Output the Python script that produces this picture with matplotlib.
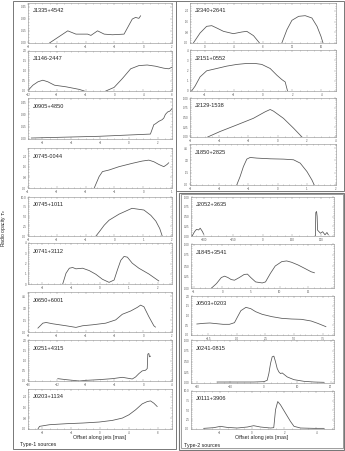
import matplotlib
matplotlib.use('Agg')
import matplotlib.pyplot as plt
from matplotlib.patches import Rectangle
from matplotlib.ticker import MaxNLocator, AutoMinorLocator

plt.rcParams['font.family'] = ['Liberation Sans', 'DejaVu Sans']

W, H = 345, 451
LINE = '#555555'
SPINE = '#8a8a8a'

# ---------------- data (offset along jet [mas], opacity) ----------------
# Type-1 sources
j1335_x = [-6.51, -5.24, -4.67, -3.86, -3.63, -3.17, -2.71, -2.14, -1.33, -0.76, -0.53, -0.30, -0.18]
j1335_y = [0.0, 0.152, 0.111, 0.111, 0.095, 0.152, 0.111, 0.103, 0.111, 0.299, 0.320, 0.308, 0.340]

j1146_xa = [-11.86, -11.32, -10.62, -9.94, -9.24, -8.32, -6.72, -4.88, -4.18]
j1146_ya = [0.08, 0.29, 0.46, 0.54, 0.46, 0.29, 0.21, 0.08, 0.0]
j1146_xb = [-1.2, -0.04, 1.1, 2.26, 3.4, 4.56, 5.7, 6.86, 7.54, 8.0]
j1146_yb = [0.0, 0.18, 0.62, 1.11, 1.27, 1.30, 1.24, 1.14, 1.11, 1.19]

j0905_x = [-6.77, -2.06, 1.50, 1.74, 1.85, 2.08, 2.31, 2.43, 2.54, 2.70, 2.85, 3.0]
j0905_y = [0.012, 0.033, 0.06, 0.175, 0.185, 0.215, 0.235, 0.255, 0.30, 0.33, 0.34, 0.37]

j0745a_x = [-1.70, -1.53, -1.415, -1.185, -0.84, -0.38, -0.035, 0.195, 0.37, 0.54, 0.715, 0.83, 0.885]
j0745a_y = [0.0, 0.86, 1.23, 1.35, 1.60, 1.85, 2.02, 2.09, 1.97, 1.77, 1.60, 1.77, 1.89]

j0745b_x = [-0.64, -0.53, -0.355, -0.185, 0.16, 0.61, 1.025, 1.265, 1.44, 1.575, 1.66]
j0745b_y = [0.0, 1.03, 2.76, 4.05, 5.6, 7.1, 6.66, 5.3, 3.8, 1.9, 0.0]

j0741_x = [-1.295, -1.18, -1.065, -0.95, -0.835, -0.605, -0.375, -0.145, 0.085, 0.315,
           0.49, 0.605, 0.72, 0.835, 0.95, 1.12, 1.35, 1.695, 2.04]
j0741_y = [0.0, 1.05, 1.54, 1.61, 1.48, 1.54, 1.31, 0.95, 0.46, 0.16,
           0.39, 1.38, 2.30, 2.69, 2.62, 2.03, 1.54, 0.98, 0.30]

j0650_x = [-7.31, -6.97, -6.74, -6.28, -5.36, -4.67, -4.21, -3.52, -2.60, -1.91,
           -1.45, -0.87, -0.41, -0.18, 0.05, 0.39, 0.74, 0.85]
j0650_y = [0.49, 1.105, 1.19, 1.025, 0.78, 0.575, 0.78, 0.90, 1.105, 1.515,
           2.215, 2.625, 3.075, 3.36, 3.155, 1.925, 0.78, 0.615]

j0251_x = [-11.86, -10.72, -8.88, -7.96, -6.12, -4.28, -2.9, -1.52, -1.06, -0.6,
           -0.14, 0.32, 0.56, 0.64, 0.78, 0.88, 1.02]
j0251_y = [0.114, 0.066, 0.0, 0.032, 0.066, 0.114, 0.18, 0.098, 0.196, 0.36,
           0.492, 0.524, 0.606, 1.312, 1.344, 1.18, 1.214]

j0203_x = [-8.62, -8.4, -7.02, -4.72, -2.42, -0.12, 1.72, 3.1, 4.02, 4.94, 5.86, 6.56, 7.02, 7.48, 7.94]
j0203_y = [0.0, 0.198, 0.321, 0.396, 0.447, 0.522, 0.645, 0.819, 1.065, 1.437, 1.884, 2.058, 2.106, 1.935, 1.686]

# right column, upper group
j2340_xa = [-1.54, -0.62, 0.28, 0.98, 1.66, 2.58, 3.94, 5.1, 5.78, 6.7, 7.52]
j2340_ya = [0.0, 0.75, 1.25, 1.3, 1.125, 0.876, 0.7, 0.825, 0.876, 0.55, 0.0]
j2340_xb = [10.58, 11.28, 11.96, 12.88, 13.78, 14.7, 15.4, 15.94, 16.22]
j2340_yb = [0.0, 1.0, 1.70, 2.0, 2.05, 1.875, 1.25, 0.5, 0.0]

j2151_x = [-4.89, -4.66, -4.31, -3.86, -3.17, -2.48, -1.80, -1.11, -0.54, -0.08, 0.49, 0.95, 1.29, 1.52, 1.68]
j2151_y = [0.0, 0.46, 1.376, 1.968, 2.196, 2.428, 2.592, 2.688, 2.688, 2.592, 2.196, 1.54, 1.116, 0.884, 0.0]

j2129_x = [-4.79, -3.94, -2.79, -1.66, -0.85, -0.51, -0.28, 0.40, 1.09, 1.67]
j2129_y = [0.0, 0.141, 0.310, 0.479, 0.647, 0.705, 0.663, 0.479, 0.227, 0.0]

j1850_x = [-1.40, -1.285, -1.17, -1.055, -0.94, -0.71, -0.255, 0.205, 0.545, 0.775, 1.005, 1.175, 1.255]
j1850_y = [0.0, 1.025, 2.255, 3.155, 3.36, 3.28, 3.195, 3.155, 3.075, 2.665, 1.64, 0.615, 0.0]

# Type-2 sources
j2052_xa = [-359, -347, -337, -326, -318, -306, -301]
j2052_ya = [0.0, 0.11, 0.17, 0.155, 0.2, 0.11, 0.05]
j2052_xb = [270, 272, 276, 279, 281, 296, 307, 319, 329, 336]
j2052_yb = [0.0, 0.6, 0.63, 0.5, 0.15, 0.07, 0.11, 0.03, 0.09, 0.03]

j1845_x = [-1.9, -1.05, -0.2, 0.375, 0.95, 1.525, 2.1, 2.95, 3.8, 4.375, 4.95, 5.8,
           6.95, 7.525, 8.375, 9.225, 10.375, 11.225, 12.075, 13.225, 14.375, 15.5, 16.075]
j1845_y = [0.0, 0.1, 0.238, 0.269, 0.238, 0.192, 0.177, 0.238, 0.308, 0.315, 0.238, 0.138,
           0.115, 0.138, 0.331, 0.5, 0.6, 0.615, 0.585, 0.523, 0.446, 0.369, 0.346]

j0503_x = [-3.49, -2.91, -2.35, -1.775, -1.2, -0.64, -0.2, 0.075, 0.36, 0.8,
           1.225, 1.65, 2.225, 3.075, 3.94, 4.79, 5.65, 6.5, 7.075, 7.79]
j0503_y = [0.564, 0.598, 0.616, 0.582, 0.548, 0.548, 0.632, 0.94, 1.248, 1.418,
           1.35, 1.196, 1.06, 0.94, 0.854, 0.82, 0.804, 0.718, 0.598, 0.428]

j0241_x = [-14.0, -8.0, -3.0, 0.0, 1.0, 1.5, 2.0, 2.5, 3.0, 3.5,
           4.0, 4.5, 5.0, 5.5, 6.0, 7.0, 9.0, 12.0, 15.0, 18.0]
j0241_y = [0.023, 0.023, 0.023, 0.031, 0.0625, 0.219, 0.453, 0.609, 0.625, 0.492,
           0.336, 0.258, 0.219, 0.234, 0.203, 0.141, 0.078, 0.039, 0.023, 0.016]

j0111_x = [-3.01, -2.38, -1.97, -1.56, -0.93, -0.30, 0.10, 0.53, 1.15, 1.35, 1.40,
           1.46, 1.57, 1.60, 1.77, 2.08, 2.39, 2.61, 3.02, 3.85, 4.48]
j0111_y = [0.17, 0.35, 0.70, 0.43, 0.26, 0.52, 0.87, 0.52, 0.26, 0.35, 2.43,
           5.04, 6.78, 7.22, 6.35, 4.17, 2.0, 0.70, 0.26, 0.17, 0.17]

# ---------------- panels: name, segments, xlim, ylim, pixel box ----------------
panels = [
    ('J1335+4542', [(j1335_x, j1335_y)], (-8, 2), (0, 0.5), (28, 3, 172, 43)),
    ('J1146-2447', [(j1146_xa, j1146_ya), (j1146_xb, j1146_yb)], (-12, 8), (0, 2), (28, 51, 172, 91)),
    ('J0905+4850', [(j0905_x, j0905_y)], (-7, 3), (0, 0.5), (28, 98, 172, 139)),
    ('J0745-0044', [(j0745a_x, j0745a_y)], (-4, 1), (0, 3), (28, 148, 172, 188)),
    ('J0745+1011', [(j0745b_x, j0745b_y)], (-3, 2), (0, 10), (28, 197, 172, 236)),
    ('J0741+3112', [(j0741_x, j0741_y)], (-2.5, 2.5), (0, 4), (28, 243, 172, 284)),
    ('J0650+6001', [(j0650_x, j0650_y)], (-8, 2), (0, 5), (28, 292, 172, 332)),
    ('J0251+4315', [(j0251_x, j0251_y)], (-16, 4), (0, 2), (28, 340, 172, 381)),
    ('J0203+1134', [(j0203_x, j0203_y)], (-10, 10), (0, 3), (28, 389, 172, 429)),
    ('J2340+2641', [(j2340_xa, j2340_ya), (j2340_xb, j2340_yb)], (-2, 18), (0, 3), (190, 3, 336, 43)),
    ('J2151+0552', [(j2151_x, j2151_y)], (-5, 5), (0, 4), (190, 50, 336, 91)),
    ('J2129-1538', [(j2129_x, j2129_y)], (-6, 4), (0, 1), (190, 98, 336, 137)),
    ('J1850+2825', [(j1850_x, j1850_y)], (-3, 2), (0, 5), (190, 144, 336, 185)),
    ('J2052+3635', [(j2052_xa, j2052_ya), (j2052_xb, j2052_yb)], (-365, 365), (0, 1), (191, 197, 334, 236)),
    ('J1845+3541', [(j1845_x, j1845_y)], (-5.5, 19.5), (0, 1), (191, 244, 334, 288)),
    ('J0503+0203', [(j0503_x, j0503_y)], (-4, 8.5), (0, 2), (191, 296, 334, 335)),
    ('J0241-0815', [(j0241_x, j0241_y)], (-21.8, 21), (0, 1), (191, 340, 334, 383)),
    ('J0111+3906', [(j0111_x, j0111_y)], (-3.8, 5.1), (0, 10), (191, 391, 334, 429)),
]

fig = plt.figure(figsize=(W / 100, H / 100), dpi=100)
fig.patch.set_facecolor('white')

for name, segs, xl, yl, (x0, y0, x1, y1) in panels:
    ax = fig.add_axes([x0 / W, 1 - y1 / H, (x1 - x0) / W, (y1 - y0) / H])
    for xs, ys in segs:
        ax.plot(xs, ys, color=LINE, lw=0.55)
    ax.set_xlim(*xl)
    ax.set_ylim(*yl)
    ax.xaxis.set_major_locator(MaxNLocator(5))
    ax.yaxis.set_major_locator(MaxNLocator(4))
    ax.xaxis.set_minor_locator(AutoMinorLocator())
    ax.yaxis.set_minor_locator(AutoMinorLocator())
    ax.tick_params(which='both', direction='in', top=True, right=True,
                   width=0.3, color=SPINE, labelsize=2, labelcolor='#555555', pad=1.2)
    ax.tick_params(which='major', length=1.4)
    ax.tick_params(which='minor', length=0.7)
    for s in ax.spines.values():
        s.set_linewidth(0.4)
        s.set_color(SPINE)
    ax.text(0.035, 0.8, name, transform=ax.transAxes, fontsize=4.1,
            color='#222222', va='center', ha='left')

# group frames
def frame(x0, y0, x1, y1, lw=0.7):
    fig.patches.append(Rectangle((x0 / W, 1 - y1 / H), (x1 - x0) / W, (y1 - y0) / H,
                                 transform=fig.transFigure, fill=False,
                                 ec='#777777', lw=lw))

frame(13, 0.5, 176, 449)
frame(176, 0.5, 344, 191)
frame(178.5, 192.5, 344, 449.5, lw=0.8)
frame(180.5, 194.5, 342.5, 447.5, lw=0.5)

fig.text(4 / W, 1 - 228 / H, r'Radio opacity $\tau_\nu$', rotation=90,
         fontsize=3.6, ha='center', va='center', color='#222222')
fig.text(100 / W, 1 - 437 / H, 'Offset along jets [mas]', fontsize=3.8,
         ha='center', va='center', color='#222222')
fig.text(262 / W, 1 - 437 / H, 'Offset along jets [mas]', fontsize=3.8,
         ha='center', va='center', color='#222222')
fig.text(20 / W, 1 - 444.5 / H, 'Type-1 sources', fontsize=3.8,
         ha='left', va='center', color='#222222')
fig.text(184 / W, 1 - 445.5 / H, 'Type-2 sources', fontsize=3.8,
         ha='left', va='center', color='#222222')

fig.savefig('out.png', dpi=100, facecolor='white')
